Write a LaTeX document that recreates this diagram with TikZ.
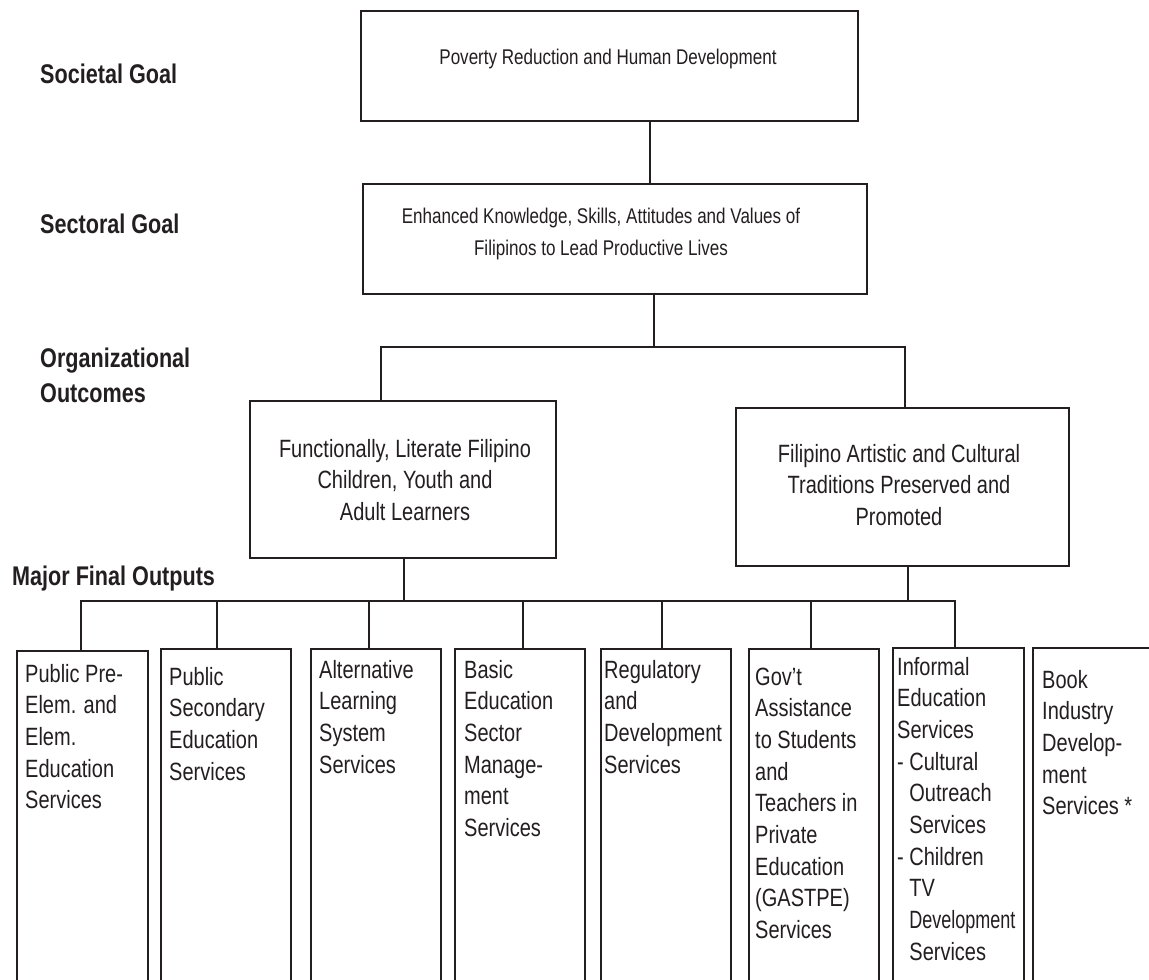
\documentclass[tikz,border=0pt]{standalone}
\usepackage{fontspec}
\setmainfont{Liberation Sans}[FakeStretch=0.8]
\usepackage{graphicx}
\definecolor{ink}{HTML}{231F20}
\tikzset{
  frame/.style={draw=ink, line width=2.3pt, inner sep=0pt, anchor=north west},
  link/.style={draw=ink, line width=2.3pt, line join=miter},
  level/.style={text=ink, anchor=base west, inner sep=0pt, font=\fontsize{27}{35}\selectfont\bfseries},
  goaltext/.style={text=ink, align=center, inner sep=0pt, font=\fontsize{21.3}{32}\selectfont},
  outtext/.style={text=ink, align=center, inner sep=0pt, font=\fontsize{25}{31.7}\selectfont},
  mfotext/.style={text=ink, anchor=base west, inner sep=0pt, font=\fontsize{25}{31.7}\selectfont},
}
\newcommand{\mfo}[1]{\parbox[t]{140pt}{\raggedright #1}}
\begin{document}
\begin{tikzpicture}[x=1pt,y=-1pt]
\useasboundingbox (0,0) rectangle (1149,980);
\fill[white] (0,0) rectangle (1149,980);
\clip (0,0) rectangle (1149,980);

% level labels
\node[level] (lSoc) at (40,83) {Societal Goal};
\node[level] (lSec) at (40,233) {Sectoral Goal};
\node[level] (lOrg) at (40,367) {Organizational};
\node[level] (lOut) at (40,402) {Outcomes};
\node[level] (lMfo) at (12,585) {Major Final Outputs};

% goal boxes
\node[frame, minimum width=497pt, minimum height=110pt] (top) at (360,10) {};
\node[goaltext] (topT) at (608,59) {Poverty Reduction and Human Development};
\node[frame, minimum width=504pt, minimum height=110pt] (sect) at (362,183) {};
\node[goaltext] (sectT) at (601,234) {Enhanced Knowledge, Skills, Attitudes and Values of\\Filipinos to Lead Productive Lives};

% organizational outcomes
\node[frame, minimum width=306pt, minimum height=157pt] (oc1) at (249,400) {};
\node[outtext] (oc1T) at (405,480) {Functionally, Literate Filipino\\Children, Youth and\\Adult Learners};
\node[frame, minimum width=333pt, minimum height=158pt] (oc2) at (735,407) {};
\node[outtext] (oc2T) at (899,485) {Filipino Artistic and Cultural\\Traditions Preserved and\\Promoted};

% major final outputs
\node[frame, minimum width=131pt, minimum height=360pt] (m1) at (16,650) {};
\node[frame, minimum width=130pt, minimum height=360pt] (m2) at (160,648) {};
\node[frame, minimum width=130pt, minimum height=360pt] (m3) at (310,648) {};
\node[frame, minimum width=130pt, minimum height=360pt] (m4) at (454,648) {};
\node[frame, minimum width=130pt, minimum height=360pt] (m5) at (600,648) {};
\node[frame, minimum width=130pt, minimum height=360pt] (m6) at (748,648) {};
\node[frame, minimum width=131pt, minimum height=360pt] (m7) at (892,647) {};
\node[frame, minimum width=140pt, minimum height=360pt] (m8) at (1032,647) {};

\node[mfotext] (t1) at (25,682) {\mfo{Public Pre-\\Elem. and\\Elem.\\Education\\Services}};
\node[mfotext] (t2) at (169,685) {\mfo{Public\\Secondary\\Education\\Services}};
\node[mfotext] (t3) at (319,678) {\mfo{Alternative\\Learning\\System\\Services}};
\node[mfotext] (t4) at (464,678) {\mfo{Basic\\Education\\Sector\\Manage-\\ment\\Services}};
\node[mfotext] (t5) at (604,678) {\mfo{Regulatory\\and\\Development\\Services}};
\node[mfotext] (t6) at (755,685) {\mfo{Gov’t\\Assistance\\to Students\\and\\Teachers in\\Private\\Education\\(GASTPE)\\Services}};
\node[mfotext] (t7) at (897,675) {\mfo{Informal\\Education\\Services\\- Cultural\\\hphantom{- }Outreach\\\hphantom{- }Services\\- Children\\\hphantom{- }TV\\\hphantom{- }\scalebox{0.9}[1]{Development}\\\hphantom{- }Services}};
\node[mfotext] (t8) at (1042,688) {\mfo{Book\\Industry\\Develop-\\ment\\Services *}};

% connectors
\coordinate (x1) at (650,0);
\coordinate (x2) at (654,0);
\draw[link] (top.south -| x1) -- (sect.north -| x1);
\coordinate (busL) at (381,347);
\coordinate (busR) at (905,347);
\draw[link] (sect.south -| x2) -- (x2 |- busL);
\draw[link] (oc1.north -| busL) -- (busL) -- (busR) -- (oc2.north -| busR);

\coordinate (b1) at (81,601);
\coordinate (b2) at (217,601);
\coordinate (b3) at (369,601);
\coordinate (b4) at (523,601);
\coordinate (b5) at (662,601);
\coordinate (b6) at (811,601);
\coordinate (b7) at (955,601);
\coordinate (o1) at (404,0);
\coordinate (o2) at (908,0);
\draw[link] (oc1.south -| o1) -- (o1 |- b1);
\draw[link] (oc2.south -| o2) -- (o2 |- b1);
\draw[link] (m1.north -| b1) -- (b1) -- (b7) -- (m7.north -| b7);
\draw[link] (b2) -- (m2.north -| b2);
\draw[link] (b3) -- (m3.north -| b3);
\draw[link] (b4) -- (m4.north -| b4);
\draw[link] (b5) -- (m5.north -| b5);
\draw[link] (b6) -- (m6.north -| b6);
\end{tikzpicture}
\end{document}
